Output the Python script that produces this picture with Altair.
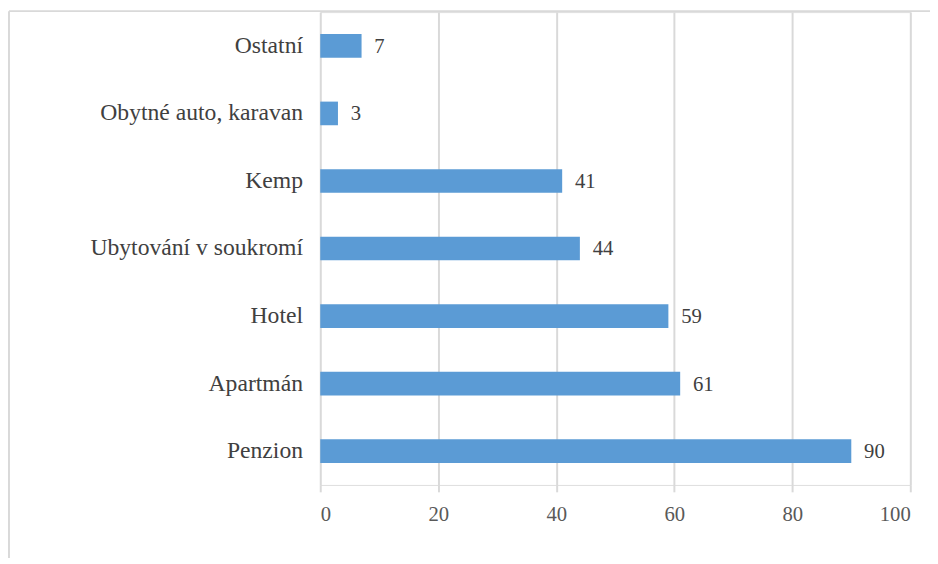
import altair as alt
import pandas as pd

categories = ["Ostatní", "Obytné auto, karavan", "Kemp", "Ubytování v soukromí", "Hotel", "Apartmán", "Penzion"]
values = [7, 3, 41, 44, 59, 61, 90]
x_ticks = [0, 20, 40, 60, 80, 100]

df = pd.DataFrame({"cat": categories, "val": values})

FONT = "Times New Roman, Liberation Serif, serif"
GRID = "#d9d9d9"

base = alt.Chart(df)

bars = base.mark_bar(size=24, color="#5B9BD5").encode(
    y=alt.Y("cat:N", sort=categories, title=None,
            axis=alt.Axis(ticks=False, domain=False, labelPadding=18, labelFontSize=24,
                          labelFont=FONT, labelColor="#404040", labelLimit=400)),
    x=alt.X("val:Q", title=None, scale=alt.Scale(domain=[0, 100], nice=False),
            axis=alt.Axis(values=x_ticks, grid=True, gridColor=GRID, gridWidth=2,
                          domain=False, tickColor=GRID, tickSize=7, tickWidth=2,
                          labelPadding=12, labelFontSize=21, labelFont=FONT,
                          labelColor="#595959")),
)

labels = base.mark_text(align="left", dx=13, dy=1, font=FONT, fontSize=21, color="#404040").encode(
    y=alt.Y("cat:N", sort=categories),
    x="val:Q",
    text="val:Q",
)

frame_left = alt.Chart(pd.DataFrame({"a": [0]})).mark_rule(color=GRID, strokeWidth=2, clip=False).encode(
    x=alt.value(-316), y=alt.value(-1), y2=alt.value(560)
)
frame_top = alt.Chart(pd.DataFrame({"a": [0]})).mark_rule(color=GRID, strokeWidth=2, clip=False).encode(
    x=alt.value(-316), x2=alt.value(620), y=alt.value(-1)
)

chart = alt.layer(bars, labels, frame_left, frame_top).properties(
    width=599, height=480,
    autosize=alt.AutoSizeParams(type="none"),
    padding={"left": 317, "top": 0, "right": 20, "bottom": 70},
).configure_view(stroke=None).configure(background="white")

chart.save("out.html", embed_options={"renderer": "svg", "actions": False})
